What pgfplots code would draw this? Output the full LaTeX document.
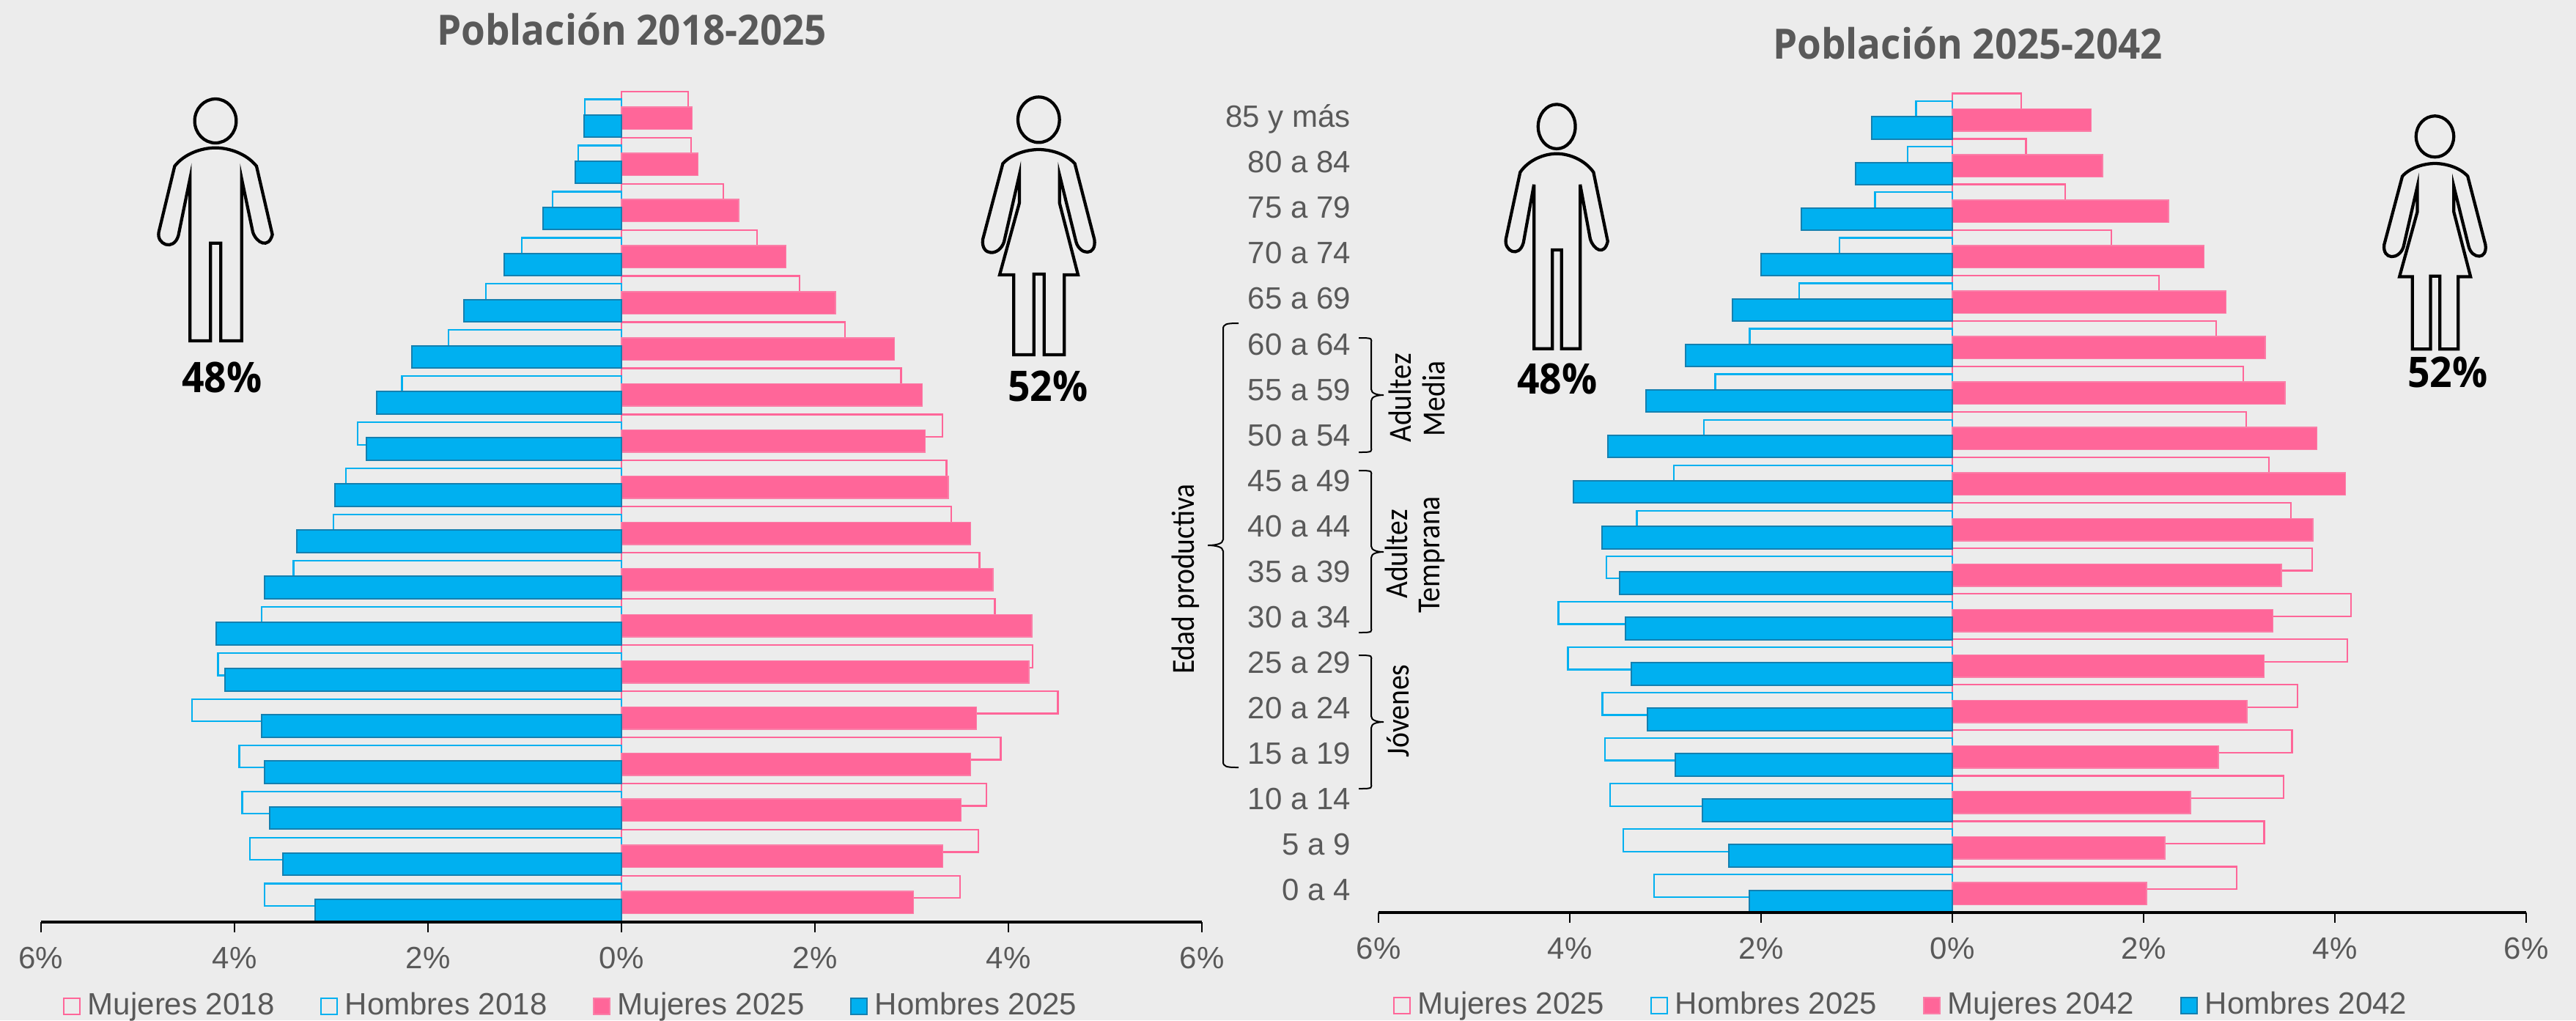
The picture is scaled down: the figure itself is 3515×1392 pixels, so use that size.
\documentclass[border=0pt]{standalone}
\usepackage{fontspec}
\usepackage{pgfplots}
\usepackage{pgfplotstable}
\pgfplotsset{compat=1.18}
\setmainfont{Liberation Sans}
\newfontfamily\titlefont[FakeStretch=0.93]{Open Sans}
\newfontfamily\narrowfont[FakeStretch=0.9]{Carlito}

\definecolor{bggray}{HTML}{ECECEC}
\definecolor{txtgray}{HTML}{595959}
\definecolor{pinkb}{HTML}{FF6699}
\definecolor{pinkedge}{HTML}{FA7FA8}
\definecolor{blueb}{HTML}{00B0F0}
\definecolor{blueedge}{HTML}{1480B0}

% columns: cat, hollow women, hollow men, filled women, filled men
\pgfplotstableread{
cat mh hh mf hf
0  3.50 -3.69 3.02 -3.17
1  3.69 -3.84 3.32 -3.50
2  3.77 -3.92 3.51 -3.64
3  3.92 -3.95 3.61 -3.69
4  4.51 -4.44 3.67 -3.72
5  4.25 -4.17 4.21 -4.10
6  3.86 -3.72 4.24 -4.19
7  3.70 -3.39 3.84 -3.69
8  3.41 -2.98 3.61 -3.36
9  3.36 -2.85 3.38 -2.96
10 3.32 -2.73 3.14 -2.64
11 2.89 -2.27 3.11 -2.53
12 2.31 -1.79 2.82 -2.17
13 1.84 -1.40 2.21 -1.63
14 1.40 -1.03 1.70 -1.21
15 1.05 -0.71 1.21 -0.81
16 0.72 -0.45 0.79 -0.48
17 0.69 -0.38 0.73 -0.39
}\tableleft
\pgfplotstableread{
cat mh hh mf hf
0  2.97 -3.12 2.03 -2.12
1  3.26 -3.44 2.22 -2.34
2  3.46 -3.58 2.49 -2.61
3  3.55 -3.63 2.78 -2.90
4  3.61 -3.66 3.08 -3.19
5  4.13 -4.02 3.26 -3.36
6  4.17 -4.12 3.35 -3.42
7  3.76 -3.62 3.44 -3.48
8  3.54 -3.30 3.77 -3.66
9  3.31 -2.91 4.11 -3.96
10 3.07 -2.60 3.81 -3.60
11 3.04 -2.48 3.48 -3.20
12 2.76 -2.12 3.27 -2.79
13 2.16 -1.60 2.86 -2.30
14 1.66 -1.18 2.63 -2.00
15 1.18 -0.81 2.26 -1.58
16 0.77 -0.47 1.57 -1.01
17 0.72 -0.38 1.45 -0.84
}\tableright

\pgfplotsset{
  pyramid/.style={
    scale only axis,
    axis x line*=bottom,
    axis y line*=left,
    y axis line style={draw=none},
    x axis line style={line width=0.75pt},
    xbar,
    bar width=6.1pt,
    xmin=-6, xmax=6,
    xtick={-6,-4,-2,0,2,4,6},
    xticklabels={6\%,4\%,2\%,0\%,2\%,4\%,6\%},
    tick align=outside,
    major tick length=2.7pt,
    xtick style={black,line width=0.5pt},
    ytick style={draw=none},
    ytick=\empty,
    tick label style={font=\fontsize{8.4}{10}\selectfont,text=txtgray},
    xticklabel style={yshift=-0.6pt},
    clip=false,
    axis on top,
    legend columns=4,
    legend cell align=left,
    legend image code/.code={\draw[##1,line width=0.4pt] (0pt,-2.2pt) rectangle (4.4pt,2.2pt);},
    legend style={draw=none,fill=none,inner sep=0pt,
      font=\fontsize{8.4}{10}\selectfont,text=txtgray,
      /tikz/every even column/.append style={column sep=10.5pt}},
  },
  hollowm/.style={draw=pinkb,fill=none,line width=0.45pt,bar shift=3.2pt},
  hollowh/.style={draw=blueb,fill=none,line width=0.45pt,bar shift=1.05pt},
  filledm/.style={draw=pinkedge,fill=pinkb,line width=0.3pt,bar shift=-1.05pt},
  filledh/.style={draw=blueedge,fill=blueb,line width=0.4pt,bar shift=-3.2pt},
}

\newcommand{\manicon}[4]{% left, top, xscale, yscale; drawn in the zoom's own units
\begin{scope}[shift={(#1,#2)},xscale=#3,yscale=#4,line width=0.85pt,black,line join=miter]
  \draw (342,195) ellipse [x radius=85,y radius=90];
  \draw (238,430) -- (238,1095) -- (322,1095) -- (322,695) -- (364,695) -- (364,1095) -- (449,1095) -- (449,430)
    -- (495,650) .. controls (510,695) and (560,720) .. (575,660) -- (510,380)
    .. controls (470,330) and (400,305) .. (342,305) .. controls (284,305) and (214,330) .. (175,380)
    -- (110,650) .. controls (100,700) and (170,730) .. (190,665) -- cycle;
\end{scope}}
\newcommand{\womanicon}[4]{%
\begin{scope}[shift={(#1,#2)},xscale=#3,yscale=#4,line width=0.85pt,black,line join=miter]
  \draw (352,190) ellipse [x radius=85,y radius=93];
  \draw (273,415) -- (273,530) -- (192,825) -- (250,825) -- (250,1152) -- (332,1152) -- (332,822) -- (374,822)
    -- (374,1152) -- (457,1152) -- (457,825) -- (513,825) -- (437,530) -- (437,415)
    -- (505,690) .. controls (520,745) and (590,750) .. (580,680) -- (500,370)
    .. controls (465,330) and (400,312) .. (352,312) .. controls (304,312) and (240,330) .. (205,370)
    -- (123,680) .. controls (115,750) and (190,750) .. (210,690) -- cycle;
\end{scope}}
\newcommand{\agebrace}[6]{% end x, spine x, tip x, top y, mid y, bottom y
  \draw[black,line width=0.4pt] (#1,#4) .. controls ({#2+4},#4) and (#2,#4+1) .. (#2,{#4+8}) -- (#2,{#5-8})
    .. controls (#2,{#5-2}) and ({(#2+#3)/2},#5) .. (#3,#5)
    .. controls ({(#2+#3)/2},#5) and (#2,{#5+2}) .. (#2,{#5+8}) -- (#2,{#6-8})
    .. controls (#2,#6-1) and ({#2+4},#6) .. (#1,#6);}

\begin{document}
\begin{tikzpicture}[x=0.2pt,y=-0.2pt]
\fill[bggray] (0,0) rectangle (3515,1392);
\path[use as bounding box] (0,0) rectangle (3515,1392);

\begin{axis}[pyramid,
  at={(11.2pt,-251.6pt)},anchor=south west,
  width=316.8pt,height=226.68pt,
  ymin=-0.508,ymax=17.5,
  legend style={at={(0.0183,-0.1015)},anchor=west}]
  \addplot[hollowm] table[x=mh,y=cat]{\tableleft};
  \addplot[hollowh] table[x=hh,y=cat]{\tableleft};
  \addplot[filledm] table[x=mf,y=cat]{\tableleft};
  \addplot[filledh] table[x=hf,y=cat]{\tableleft};
  \legend{Mujeres 2018,Hombres 2018,Mujeres 2025,Hombres 2025}
\end{axis}

\begin{axis}[pyramid,
  at={(376.2pt,-249pt)},anchor=south west,
  width=313.2pt,height=223.47pt,
  ymin=-0.504,ymax=17.5,
  ytick={0,1,...,17},
  yticklabels={0 a 4,5 a 9,10 a 14,15 a 19,20 a 24,25 a 29,30 a 34,35 a 39,40 a 44,45 a 49,50 a 54,55 a 59,60 a 64,65 a 69,70 a 74,75 a 79,80 a 84,85 y más},
  yticklabel style={xshift=-1.4pt,text height=6pt,text depth=0pt},
  legend style={at={(0.012,-0.114)},anchor=west}]
  \addplot[hollowm] table[x=mh,y=cat]{\tableright};
  \addplot[hollowh] table[x=hh,y=cat]{\tableright};
  \addplot[filledm] table[x=mf,y=cat]{\tableright};
  \addplot[filledh] table[x=hf,y=cat]{\tableright};
  \legend{Mujeres 2025,Hombres 2025,Mujeres 2042,Hombres 2042}
\end{axis}

% titles
\node[text=txtgray,font=\titlefont\bfseries\fontsize{11.4}{13}\selectfont] at (862,40) {Población 2018-2025};
\node[text=txtgray,font=\titlefont\bfseries\fontsize{11.4}{13}\selectfont] at (2685,59) {Población 2025-2042};

% icons
\manicon{180}{100}{0.3333}{0.3333}
\womanicon{1300}{100}{0.3333}{0.3333}
\manicon{2022}{107}{0.2987}{0.3367}
\womanicon{3216}{129}{0.3024}{0.3013}

\node[font=\titlefont\bfseries\fontsize{11.5}{13}\selectfont] at (303,515) {48\%};
\node[font=\titlefont\bfseries\fontsize{11.5}{13}\selectfont] at (1430,527) {52\%};
\node[font=\titlefont\bfseries\fontsize{11.5}{13}\selectfont] at (2125,517) {48\%};
\node[font=\titlefont\bfseries\fontsize{11.5}{13}\selectfont] at (3340,508) {52\%};

% age group braces
\agebrace{1690}{1669}{1648}{441}{744}{1047}
\agebrace{1854}{1871}{1888}{461}{539}{617}
\agebrace{1854}{1871}{1888}{642}{753}{863}
\agebrace{1854}{1871}{1888}{894}{985}{1076}

\begin{scope}[font=\narrowfont\fontsize{8.8}{10}\selectfont]
\node[rotate=90] at (1618,790) {Edad productiva};
\node[rotate=90] at (1910,543) {Adultez};
\node[rotate=90] at (1956,544) {Media};
\node[rotate=90] at (1905,756) {Adultez};
\node[rotate=90] at (1954,757) {Temprana};
\node[rotate=90] at (1908,970) {Jóvenes};
\end{scope}
\end{tikzpicture}
\end{document}
